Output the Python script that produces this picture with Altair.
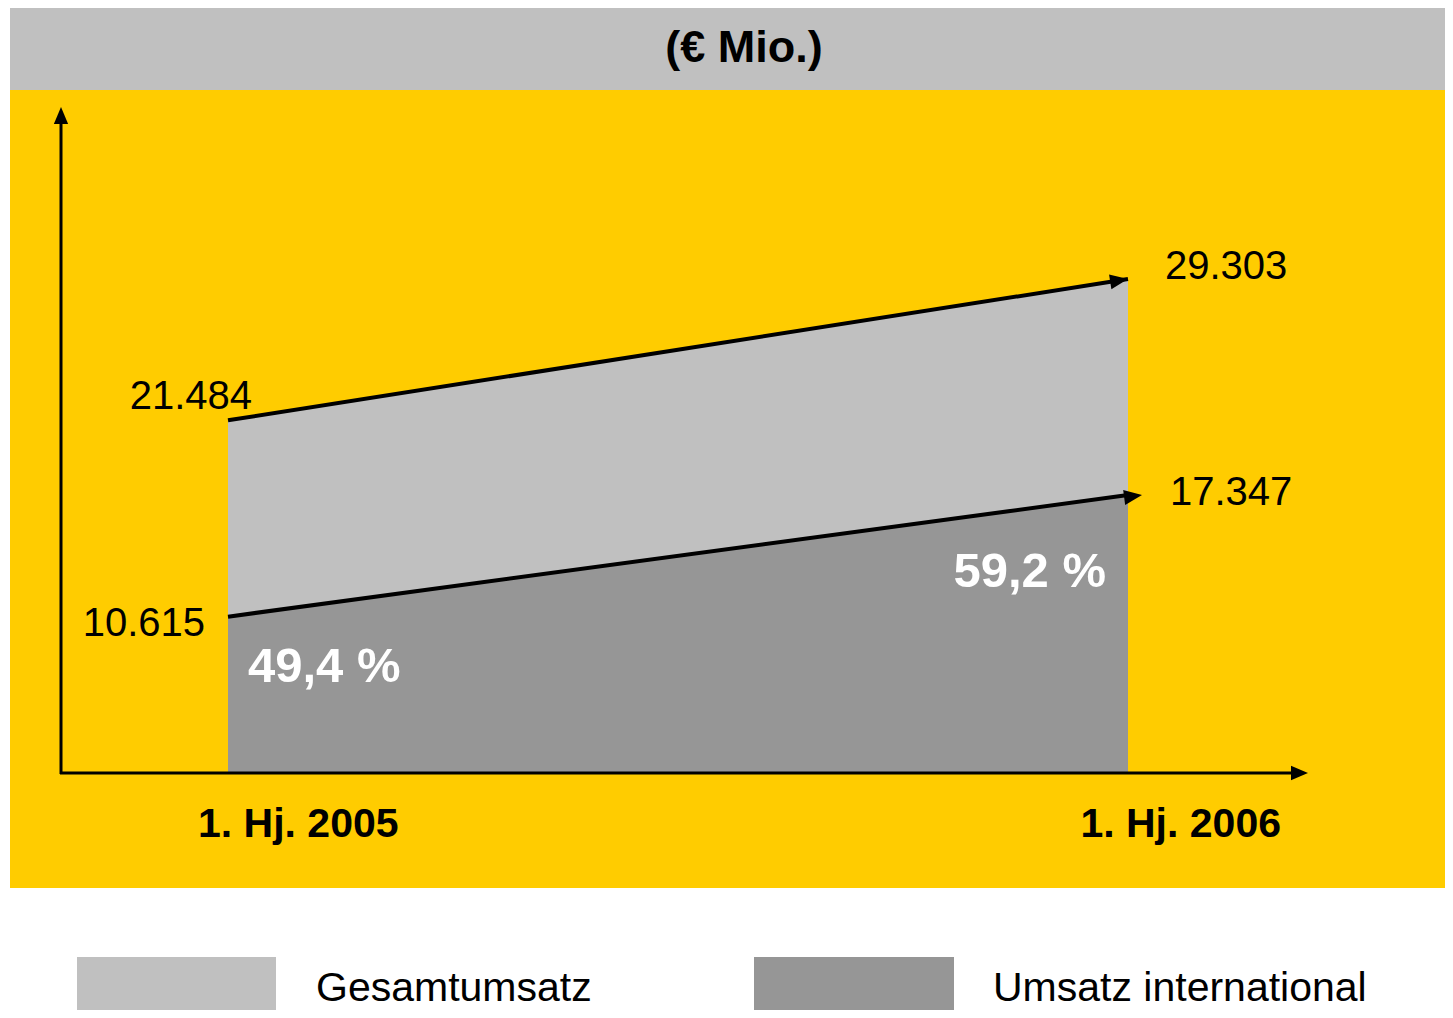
import math
import altair as alt
import pandas as pd

# ---- data ----
periods = ["1. Hj. 2005", "1. Hj. 2006"]
period_pos = [0, 1]
gesamtumsatz = [21484, 29303]
international = [10615, 17347]
gesamt_labels = ["21.484", "29.303"]
intl_labels = ["10.615", "17.347"]
pct_labels = ["49,4 %", "59,2 %"]
title_text = "(€ Mio.)"
legend_names = ["Gesamtumsatz", "Umsatz international"]

YELLOW = "#FFCC00"
LIGHT = "#C0C0C0"
DARK = "#969696"
FONT = "Liberation Sans"

df = pd.DataFrame({
    "period": periods,
    "pos": period_pos,
    "total": gesamtumsatz,
    "intl": international,
    "total_lbl": gesamt_labels,
    "intl_lbl": intl_labels,
    "pct": pct_labels,
})

W, H = 1437, 1002
BASE = 765  # pixel y of value-axis baseline (chart coords)
K = 0.018064
Y0 = 1960
y_top = BASE - (30000 - Y0) * K

xs = alt.Scale(domain=[0, 1], range=[220, 1120])
ys = alt.Scale(domain=[Y0, 30000], range=[BASE, y_top], clamp=True)

X = alt.X("pos:Q", scale=xs, axis=None)


def yenc(field):
    return alt.Y(f"{field}:Q", scale=ys, axis=None)


base = alt.Chart(df)

# backgrounds
title_bar = alt.Chart(pd.DataFrame({"a": [0]})).mark_rect(color=LIGHT).encode(
    x=alt.value(2), x2=alt.value(W), y=alt.value(0), y2=alt.value(82))
yellow_bg = alt.Chart(pd.DataFrame({"a": [0]})).mark_rect(color=YELLOW).encode(
    x=alt.value(2), x2=alt.value(W), y=alt.value(82), y2=alt.value(880))
title = alt.Chart(pd.DataFrame({"t": [title_text]})).mark_text(
    font=FONT, fontSize=45, fontWeight="bold", color="black", baseline="middle", align="center"
).encode(x=alt.value(736), y=alt.value(40), text="t:N")

# areas
area_total = base.mark_area(color=LIGHT, opacity=1).encode(
    x=X, y=yenc("total"), y2=alt.datum(0))
area_intl = base.mark_area(color=DARK, opacity=1).encode(
    x=X, y=yenc("intl"), y2=alt.datum(0))

# axes with arrows
ARROW = "M0,0L-1,-0.42L-1,0.42Z"
y_axis = alt.Chart(pd.DataFrame({"a": [0]})).mark_rule(color="black", strokeWidth=3).encode(
    x=alt.value(53), y=alt.value(112), y2=alt.value(BASE + 1))
y_arrow = alt.Chart(pd.DataFrame({"a": [0]})).mark_point(
    shape=ARROW, filled=True, color="black", opacity=1, size=1156, angle=270
).encode(x=alt.value(53), y=alt.value(99))
x_axis = alt.Chart(pd.DataFrame({"a": [0]})).mark_rule(color="black", strokeWidth=3).encode(
    x=alt.value(52), x2=alt.value(1286), y=alt.value(BASE))
x_arrow = alt.Chart(pd.DataFrame({"a": [0]})).mark_point(
    shape=ARROW, filled=True, color="black", opacity=1, size=1156, angle=0
).encode(x=alt.value(1300), y=alt.value(BASE))

# trend lines with arrowheads
line_total = base.mark_line(color="black", strokeWidth=4).encode(x=X, y=yenc("total"))
line_intl = base.mark_line(color="black", strokeWidth=4).encode(x=X, y=yenc("intl"))

ang_total = math.degrees(math.atan2((gesamtumsatz[1] - gesamtumsatz[0]) * K, 900))
ang_intl = math.degrees(math.atan2((international[1] - international[0]) * K, 900))

end = base.transform_filter(alt.datum.pos == 1)
start = base.transform_filter(alt.datum.pos == 0)

arrow_total = end.mark_point(
    shape=ARROW, filled=True, color="black", opacity=1, size=1296, angle=360 - ang_total
).encode(x=X, y=yenc("total"))
arrow_intl = end.mark_point(
    shape=ARROW, filled=True, color="black", opacity=1, size=1296, angle=360 - ang_intl, xOffset=14
).encode(x=X, y=yenc("intl"))

# value labels
txt = dict(font=FONT, fontSize=40, color="black", baseline="middle")
lbl_total0 = start.mark_text(align="right", dx=24, dy=-23, **txt).encode(
    x=X, y=yenc("total"), text="total_lbl:N")
lbl_total1 = end.mark_text(align="left", dx=37, dy=-12, **txt).encode(
    x=X, y=yenc("total"), text="total_lbl:N")
lbl_intl0 = start.mark_text(align="right", dx=-23, dy=7, **txt).encode(
    x=X, y=yenc("intl"), text="intl_lbl:N")
lbl_intl1 = end.mark_text(align="left", dx=42, dy=-2, **txt).encode(
    x=X, y=yenc("intl"), text="intl_lbl:N")

pct = dict(font=FONT, fontSize=49, fontWeight="bold", color="white", baseline="middle")
pct0 = start.mark_text(align="left", dx=20, dy=50, **pct).encode(
    x=X, y=yenc("intl"), text="pct:N")
pct1 = end.mark_text(align="right", dx=-22, dy=77, **pct).encode(
    x=X, y=yenc("intl"), text="pct:N")

# period labels
per = dict(font=FONT, fontSize=41, fontWeight="bold", color="black", baseline="middle")
per0 = start.mark_text(align="left", dx=-30, **per).encode(
    x=X, y=alt.value(817), text="period:N")
per1 = end.mark_text(align="right", dx=153, **per).encode(
    x=X, y=alt.value(817), text="period:N")

# custom legend
leg_df = pd.DataFrame({"name": legend_names})
leg_box1 = alt.Chart(leg_df).transform_filter(alt.datum.name == legend_names[0]).mark_rect(
    color=LIGHT).encode(x=alt.value(69), x2=alt.value(268), y=alt.value(949), y2=alt.value(H))
leg_box2 = alt.Chart(leg_df).transform_filter(alt.datum.name == legend_names[1]).mark_rect(
    color=DARK).encode(x=alt.value(746), x2=alt.value(946), y=alt.value(949), y2=alt.value(H))
leg = dict(font=FONT, fontSize=41, color="black", baseline="middle", align="left")
leg_t1 = alt.Chart(leg_df).transform_filter(alt.datum.name == legend_names[0]).mark_text(**leg).encode(
    x=alt.value(308), y=alt.value(981), text="name:N")
leg_t2 = alt.Chart(leg_df).transform_filter(alt.datum.name == legend_names[1]).mark_text(**leg).encode(
    x=alt.value(985), y=alt.value(981), text="name:N")

chart = alt.layer(
    title_bar, yellow_bg, title,
    area_total, area_intl,
    y_axis, y_arrow, x_axis, x_arrow,
    line_total, line_intl, arrow_total, arrow_intl,
    lbl_total0, lbl_total1, lbl_intl0, lbl_intl1,
    pct0, pct1, per0, per1,
    leg_box1, leg_box2, leg_t1, leg_t2,
).properties(
    width=W, height=H, padding=0,
    autosize=alt.AutoSizeParams(type="fit", contains="padding"),
    background="white",
).configure_view(stroke=None)

chart.save("out.html", embed_options={"renderer": "svg", "actions": False})
